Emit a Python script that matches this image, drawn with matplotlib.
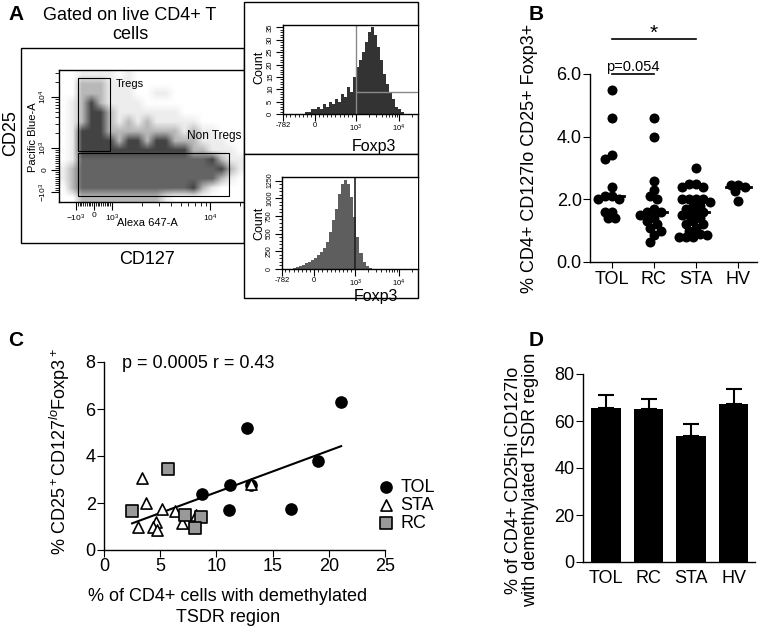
import numpy as np
import matplotlib
matplotlib.use("Agg")
from matplotlib import pyplot as plt
from matplotlib.colors import ListedColormap
from matplotlib.patches import Rectangle

plt.rcParams["font.family"] = ["Liberation Sans", "DejaVu Sans"]
plt.rcParams["mathtext.fontset"] = "custom"
plt.rcParams["mathtext.rm"] = "Liberation Sans"
plt.rcParams["mathtext.it"] = "Liberation Sans:italic"
plt.rcParams["mathtext.bf"] = "Liberation Sans:bold"
plt.rcParams["axes.linewidth"] = 1.0

W, H = 762, 639

# ---- A: CD25 vs CD127 dot plot, coarse density ----
# 0 empty, 1 few dots, 2 some dots, 3 dense black dots, 4 grey bulk population
dot_density = [
    "00111101000000000000",
    "00222111000000000000",
    "00222111001100000000",
    "01232111100000000000",
    "01233211111110000000",
    "01233212121111100000",
    "01333222222221211000",
    "01333323323322211100",
    "01333333333333221110",
    "01444444444444443211",
    "12444444444444444321",
    "12444444444444444210",
    "02444444444444321000",
    "00222222222100000000",
]
density_colors = ["#ffffff", "#ededed", "#b8b8b8", "#434343", "#646464"]
treg_gate = (-900, 900, 870, 23600)        # CD127 from/to, CD25 from/to
nontreg_gate = (-900, 15600, -1200, 775)

# ---- A: Foxp3 histograms ----
foxp3_tregs = [1, 1, 2, 2, 3, 2, 4, 3, 5, 4, 6, 5, 8, 7, 11, 9, 15, 19, 22, 25,
               29, 33, 35, 32, 27, 22, 16, 12, 9, 6, 3, 2, 1, 0]
foxp3_tregs_range = (-245, 15400)
foxp3_nontregs = [5, 14, 28, 42, 61, 80, 103, 127, 155, 192, 235, 291, 385, 526,
                  690, 854, 1065, 1206, 1262, 1206, 1018, 736, 455, 221, 103, 42, 14]
foxp3_nontregs_range = (-585, 2360)

# ---- B ----
groups = ["TOL", "RC", "STA", "HV"]
b_tol = [5.5, 4.6, 3.4, 3.3, 2.4, 2.1, 2.1, 2.0, 2.0, 1.6, 1.6, 1.4, 1.4]
b_rc = [4.6, 4.0, 2.6, 2.3, 2.1, 2.0, 1.7, 1.6, 1.6, 1.5, 1.4, 1.3, 1.2, 1.1, 1.0, 0.85, 0.65]
b_sta = [3.0, 2.5, 2.5, 2.4, 2.4, 2.0, 2.0, 2.0, 2.0, 1.9, 1.8, 1.8, 1.7, 1.6, 1.6,
         1.5, 1.5, 1.4, 1.3, 1.2, 1.2, 1.1, 1.0, 0.9, 0.85, 0.8, 0.8, 0.8]
b_hv = [2.45, 2.45, 2.4, 2.25, 1.95]

# ---- C ----
c_tol_x = [21.1, 12.7, 19.0, 11.2, 13.1, 8.7, 11.1, 16.6]
c_tol_y = [6.3, 5.2, 3.8, 2.75, 2.75, 2.4, 1.7, 1.75]
c_sta_x = [3.4, 3.7, 5.2, 6.3, 4.6, 3.05, 4.4, 4.7, 6.9, 8.2, 13.1]
c_sta_y = [3.05, 2.0, 1.73, 1.66, 1.2, 1.0, 1.0, 0.85, 1.16, 1.5, 2.8]
c_rc_x = [2.5, 5.7, 7.2, 8.6, 8.1]
c_rc_y = [1.68, 3.45, 1.5, 1.4, 0.92]

# ---- D ----
d_mean = [65.5, 65.0, 53.8, 67.2]
d_sem = [5.4, 4.4, 4.9, 6.4]


def logicle(v, lin):
    # crude biexponential: linear below 1000, log above, in decades
    v = np.asarray(v, dtype=float)
    a = np.abs(v)
    return np.where(a <= 1000, v / 1000 * lin,
                    np.sign(v) * (lin + np.log10(np.maximum(a, 1000) / 1000)))


def minor_values(lin, lo, hi):
    vals = np.arange(-900, 1000, 100)
    vals = np.concatenate([vals[vals != 0], [m * 10 ** d for d in range(3, 5) for m in range(2, 10)]])
    pos = logicle(vals, lin)
    return pos[(pos > lo) & (pos < hi)]


def box(l, t, r, b):
    return [l / W, 1 - b / H, (r - l) / W, (b - t) / H]


def ftext(x, y, s, **kw):
    fig.text(x / W, 1 - y / H, s, **kw)


def swarm_offsets(values, diam, step, px_x, px_y):
    cands = [0.0]
    for k in range(1, 12):
        cands += [-k * step, k * step]
    placed = []
    offs = np.zeros(len(values))
    for i in np.argsort(values)[::-1]:
        y = values[i] * px_y
        for dx in cands:
            if all(np.hypot(dx - ox, y - oy) >= diam for ox, oy in placed):
                break
        placed.append((dx, y))
        offs[i] = dx / px_x
    return offs


fig = plt.figure(figsize=(W / 100, H / 100), dpi=100)

# ================= A =================
ftext(8, 14, "A", fontsize=15, weight="bold", va="center")
ftext(130, 25, "Gated on live CD4+ T\ncells", fontsize=13, ha="center", va="center",
      linespacing=1.15)
fig.add_artist(Rectangle((21 / W, 1 - 243 / H), 223 / W, 195 / H, transform=fig.transFigure,
                         fill=False, lw=1, ec="black", zorder=1))

x_lin, y_lin = 0.184, 0.43
ax_dot = fig.add_axes(box(59, 70, 244, 202))
xl, yl = (-0.357, 1.53), (-0.627, 1.96)
dens = np.array([[int(c) for c in row] for row in dot_density])
ax_dot.imshow(dens, cmap=ListedColormap(density_colors), vmin=-0.5, vmax=4.5,
              extent=(xl[0], xl[1], yl[0], yl[1]), origin="upper", aspect="auto",
              interpolation="bilinear", interpolation_stage="rgba")
for x0, x1, y0, y1 in (treg_gate, nontreg_gate):
    gx0, gx1 = logicle([x0, x1], x_lin)
    gy0, gy1 = logicle([y0, y1], y_lin)
    ax_dot.add_patch(Rectangle((gx0, gy0), gx1 - gx0, gy1 - gy0, fill=False, lw=0.8, ec="black"))
ax_dot.text(0.308, 0.894, "Tregs", transform=ax_dot.transAxes, fontsize=8, va="center")
ax_dot.text(0.69, 0.5, "Non Tregs", transform=ax_dot.transAxes, fontsize=8.5, va="center",
            clip_on=True)
ax_dot.spines["right"].set_visible(False)
ax_dot.set_xticks(logicle([-1000, 0, 1000, 1e4], x_lin), ["$-10^3$", "0", "$10^3$", "$10^4$"])
ax_dot.set_xticks(minor_values(x_lin, *xl), minor=True)
ax_dot.set_yticks(logicle([-1000, 0, 1000, 1e4], y_lin), ["$-10^3$", "0", "$10^3$", "$10^4$"],
                  rotation=90, va="center")
ax_dot.set_yticks(minor_values(y_lin, *yl), minor=True)
ax_dot.set_xlim(xl)
ax_dot.set_ylim(yl)
ax_dot.tick_params(which="major", length=6, width=0.8, pad=1.5, labelsize=6)
ax_dot.tick_params(which="minor", length=3, width=0.6)
ftext(33, 137, "Pacific Blue-A", fontsize=8, rotation=90, ha="center", va="center")
ftext(11, 133, "CD25", fontsize=13, rotation=90, ha="center", va="center")
ftext(147, 223, "Alexa 647-A", fontsize=8, ha="center", va="center")
ftext(147, 260, "CD127", fontsize=13, ha="center", va="center")

# histograms
h_lin = 0.953
h_left, h_right = float(logicle(-782, h_lin)), 2.4
for top, bot in ((2, 154), (154, 298)):
    fig.add_artist(Rectangle((244 / W, 1 - bot / H), 174 / W, (bot - top) / H,
                             transform=fig.transFigure, fc="white", lw=1, ec="black", zorder=2))

hist_specs = [
    (box(283, 25, 418, 114), foxp3_tregs, foxp3_tregs_range, 36, np.arange(0, 36, 5), 1, "#333333", 67, 374, 146),
    (box(282, 177, 418, 269), foxp3_nontregs, foxp3_nontregs_range, 1300, np.arange(0, 1251, 250), 50, "#5e5e5e", 223, 376, 296),
]
for rect, counts, vrange, ytop, yt, ymin_step, col, count_y, fox_x, fox_y in hist_specs:
    ax = fig.add_axes(rect, zorder=3)
    edges = np.linspace(*logicle(vrange, h_lin), len(counts) + 1)
    ax.stairs(counts, edges, fill=True, color=col)
    ax.spines["right"].set_visible(False)
    ax.set_xticks(logicle([-782, 0, 1000, 1e4], h_lin), ["-782", "0", "$10^3$", "$10^4$"])
    ax.set_xticks(minor_values(h_lin, h_left, h_right), minor=True)
    ax.set_yticks(yt, [str(v) for v in yt], rotation=90, va="center")
    ax.set_yticks(np.arange(0, ytop, ymin_step), minor=True)
    ax.set_xlim(h_left, h_right)
    ax.set_ylim(0, ytop)
    ax.tick_params(which="major", length=5, width=0.8, pad=1.5, labelsize=5.5 if ytop < 100 else 5)
    ax.tick_params(which="minor", length=2.5, width=0.6)
    ax.tick_params(axis="x", which="major", length=5, pad=1, labelsize=5.5)
    g = float(logicle(1000, h_lin))
    if ytop == 36:
        ax.axvline(g, color="#8a8a8a", lw=1)
        ax.plot([g, h_right], [9, 9], color="#8a8a8a", lw=1)
    else:
        ax.axvline(g, color="#222222", lw=1.2)
    ftext(259, count_y, "Count", fontsize=9, rotation=90, ha="center", va="center")
    ftext(fox_x, fox_y, "Foxp3", fontsize=11.5, ha="center", va="center")

# ================= B =================
ftext(529, 14, "B", fontsize=15, weight="bold", va="center")
ax_b = fig.add_axes(box(590, 74, 757, 262))
bx = (-0.51, 3.44)
px_x = (757 - 590) / (bx[1] - bx[0])
px_y = (262 - 74) / 6.0
for i, vals in enumerate([b_tol, b_rc, b_sta, b_hv]):
    vals = np.array(vals)
    offs = swarm_offsets(vals, 6.5, 3.5, px_x, px_y)
    ax_b.scatter(i + offs, vals, s=52, color="black", lw=0, clip_on=False, zorder=3)
    med = np.median(vals)
    ax_b.plot([i - 0.3, i + 0.3], [med, med], color="black", lw=2, zorder=4)
ax_b.set_xlim(bx)
ax_b.set_ylim(0, 6)
ax_b.plot([0, 2], [7.12, 7.12], color="black", lw=1.2, clip_on=False)
ax_b.text(1, 7.12, "*", ha="center", va="baseline", fontsize=15)
ax_b.plot([0, 1], [6.0, 6.0], color="black", lw=1.2, clip_on=False)
ax_b.text(0.5, 6.1, "p=0.054", ha="center", va="baseline", fontsize=10.5)
ax_b.spines[["top", "right"]].set_visible(False)
ax_b.set_yticks([0, 2, 4, 6], ["0.0", "2.0", "4.0", "6.0"])
ax_b.set_xticks(range(len(groups)), groups)
ax_b.tick_params(axis="y", length=5, pad=1, labelsize=13)
ax_b.tick_params(axis="x", length=4, pad=2.5, labelsize=13)
ftext(529, 158, "% CD4+ CD127lo CD25+ Foxp3+", fontsize=13, rotation=90, ha="center", va="center")

# ================= C =================
ftext(8, 340, "C", fontsize=15, weight="bold", va="center")
ax_c = fig.add_axes(box(104, 362, 385, 550))
ax_c.scatter(c_tol_x, c_tol_y, s=83, marker="o", color="black", lw=0, zorder=3, label="TOL")
ax_c.scatter(c_sta_x, c_sta_y, s=64, marker="^", fc="white", ec="black", lw=1.2, zorder=3, label="STA")
ax_c.scatter(c_rc_x, c_rc_y, s=64, marker="s", fc="#999999", ec="black", lw=1.2, zorder=3, label="RC")
all_x = np.concatenate([c_tol_x, c_sta_x, c_rc_x])
all_y = np.concatenate([c_tol_y, c_sta_y, c_rc_y])
fit = np.polyfit(all_x, all_y, 1)
xs = np.array([all_x.min(), all_x.max()])
ax_c.plot(xs, np.polyval(fit, xs), color="black", lw=1.5, zorder=2)
ax_c.set_xlim(0, 25)
ax_c.set_ylim(0, 8)
ax_c.spines[["top", "right"]].set_visible(False)
ax_c.set_xticks(range(0, 26, 5))
ax_c.set_yticks(range(0, 9, 2))
ax_c.tick_params(length=5, pad=1, labelsize=13)
ax_c.legend(loc="upper left", bbox_to_anchor=(377 / W, 1 - 479 / H), bbox_transform=fig.transFigure,
            frameon=False, fontsize=13, handlelength=1.0, handletextpad=0.3, labelspacing=0.05,
            borderaxespad=0, borderpad=0)
ftext(122, 363, "p = 0.0005 r = 0.43", fontsize=13, va="center")
ftext(60, 452, "% CD25$^+$CD127$^{lo}$Foxp3$^+$", fontsize=13, rotation=90, ha="center", va="center")
ftext(228, 607, "% of CD4+ cells with demethylated\nTSDR region", fontsize=13, ha="center",
      va="center", linespacing=1.25)

# ================= D =================
ftext(529, 340, "D", fontsize=15, weight="bold", va="center")
ax_d = fig.add_axes(box(583, 374, 755, 562))
xd = np.arange(len(groups))
ax_d.bar(xd, d_mean, width=0.69, color="black")
ax_d.errorbar(xd, d_mean, yerr=[np.zeros(len(d_sem)), d_sem], fmt="none", ecolor="black",
              elinewidth=1.5, capsize=5.8, capthick=1.5)
ax_d.set_xlim(-0.54, 3.5)
ax_d.set_ylim(0, 80)
ax_d.spines[["top", "right"]].set_visible(False)
ax_d.set_xticks(xd, groups)
ax_d.set_yticks(range(0, 81, 20))
ax_d.tick_params(axis="y", length=5, pad=1, labelsize=13)
ax_d.tick_params(axis="x", length=0, pad=6, labelsize=13)
ftext(522, 480, "% of CD4+ CD25hi CD127lo\nwith demethylated TSDR region", fontsize=13, rotation=90,
      ha="center", va="center", linespacing=0.95)

fig.savefig("out.png", dpi=100)
